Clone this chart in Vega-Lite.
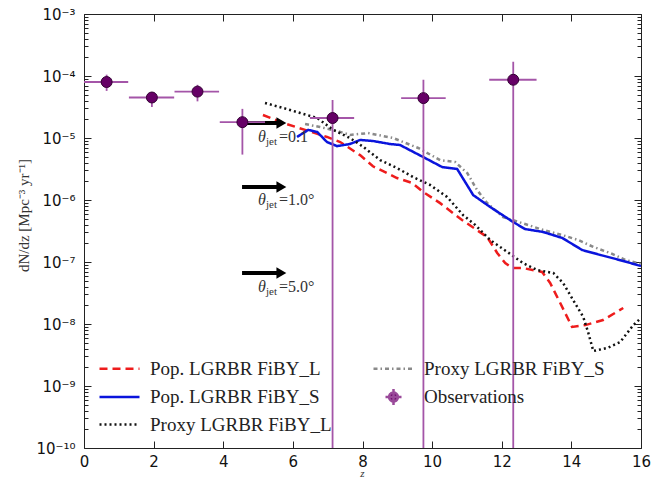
{
  "$schema": "https://vega.github.io/schema/vega-lite/v6.json",
  "width": 557,
  "height": 434,
  "autosize": "none",
  "padding": {"left": 84, "top": 14, "right": 19, "bottom": 29},
  "background": "white",
  "config": {
    "view": {"stroke": "#222222", "strokeWidth": 1},
    "axis": {"grid": false, "domain": false, "tickColor": "#222222", "tickWidth": 1}
  },
  "datasets": {
    "curves": [
      {"series": "Pop. LGRBR FiBY_L", "z": 5.14, "v": 2.35e-5},
      {"series": "Pop. LGRBR FiBY_L", "z": 5.72, "v": 1.75e-5},
      {"series": "Pop. LGRBR FiBY_L", "z": 6.35, "v": 1.35e-5},
      {"series": "Pop. LGRBR FiBY_L", "z": 6.98, "v": 1.04e-5},
      {"series": "Pop. LGRBR FiBY_L", "z": 7.36, "v": 8.6e-6},
      {"series": "Pop. LGRBR FiBY_L", "z": 7.93, "v": 5.3e-6},
      {"series": "Pop. LGRBR FiBY_L", "z": 8.30, "v": 3.5e-6},
      {"series": "Pop. LGRBR FiBY_L", "z": 8.99, "v": 2.26e-6},
      {"series": "Pop. LGRBR FiBY_L", "z": 9.43, "v": 1.88e-6},
      {"series": "Pop. LGRBR FiBY_L", "z": 9.74, "v": 1.35e-6},
      {"series": "Pop. LGRBR FiBY_L", "z": 10.23, "v": 8.9e-7},
      {"series": "Pop. LGRBR FiBY_L", "z": 10.86, "v": 4.75e-7},
      {"series": "Pop. LGRBR FiBY_L", "z": 11.58, "v": 2.53e-7},
      {"series": "Pop. LGRBR FiBY_L", "z": 11.87, "v": 1.4e-7},
      {"series": "Pop. LGRBR FiBY_L", "z": 12.10, "v": 9.6e-8},
      {"series": "Pop. LGRBR FiBY_L", "z": 12.30, "v": 8.0e-8},
      {"series": "Pop. LGRBR FiBY_L", "z": 12.61, "v": 8.0e-8},
      {"series": "Pop. LGRBR FiBY_L", "z": 13.16, "v": 6.9e-8},
      {"series": "Pop. LGRBR FiBY_L", "z": 13.39, "v": 4.6e-8},
      {"series": "Pop. LGRBR FiBY_L", "z": 13.68, "v": 2.18e-8},
      {"series": "Pop. LGRBR FiBY_L", "z": 14.02, "v": 8.95e-9},
      {"series": "Pop. LGRBR FiBY_L", "z": 14.40, "v": 9.6e-9},
      {"series": "Pop. LGRBR FiBY_L", "z": 14.91, "v": 1.16e-8},
      {"series": "Pop. LGRBR FiBY_L", "z": 15.49, "v": 1.81e-8},
      {"series": "Proxy LGRBR FiBY_S", "z": 6.35, "v": 1.68e-5},
      {"series": "Proxy LGRBR FiBY_S", "z": 6.78, "v": 1.5e-5},
      {"series": "Proxy LGRBR FiBY_S", "z": 7.27, "v": 1.3e-5},
      {"series": "Proxy LGRBR FiBY_S", "z": 7.64, "v": 1.12e-5},
      {"series": "Proxy LGRBR FiBY_S", "z": 8.16, "v": 1.2e-5},
      {"series": "Proxy LGRBR FiBY_S", "z": 8.88, "v": 1.0e-5},
      {"series": "Proxy LGRBR FiBY_S", "z": 9.60, "v": 6.9e-6},
      {"series": "Proxy LGRBR FiBY_S", "z": 10.23, "v": 4.4e-6},
      {"series": "Proxy LGRBR FiBY_S", "z": 10.66, "v": 4.1e-6},
      {"series": "Proxy LGRBR FiBY_S", "z": 11.01, "v": 2.72e-6},
      {"series": "Proxy LGRBR FiBY_S", "z": 11.29, "v": 1.45e-6},
      {"series": "Proxy LGRBR FiBY_S", "z": 11.58, "v": 8.95e-7},
      {"series": "Proxy LGRBR FiBY_S", "z": 12.04, "v": 5.3e-7},
      {"series": "Proxy LGRBR FiBY_S", "z": 12.76, "v": 3.95e-7},
      {"series": "Proxy LGRBR FiBY_S", "z": 13.19, "v": 3.28e-7},
      {"series": "Proxy LGRBR FiBY_S", "z": 13.74, "v": 2.72e-7},
      {"series": "Proxy LGRBR FiBY_S", "z": 14.20, "v": 2.26e-7},
      {"series": "Proxy LGRBR FiBY_S", "z": 14.63, "v": 1.75e-7},
      {"series": "Proxy LGRBR FiBY_S", "z": 15.11, "v": 1.4e-7},
      {"series": "Proxy LGRBR FiBY_S", "z": 15.55, "v": 1.08e-7},
      {"series": "Proxy LGRBR FiBY_S", "z": 16.0, "v": 9.3e-8},
      {"series": "Pop. LGRBR FiBY_S", "z": 6.12, "v": 1.04e-5},
      {"series": "Pop. LGRBR FiBY_S", "z": 6.44, "v": 1.35e-5},
      {"series": "Pop. LGRBR FiBY_S", "z": 6.70, "v": 1.25e-5},
      {"series": "Pop. LGRBR FiBY_S", "z": 6.98, "v": 8.6e-6},
      {"series": "Pop. LGRBR FiBY_S", "z": 7.27, "v": 7.4e-6},
      {"series": "Pop. LGRBR FiBY_S", "z": 7.64, "v": 8.0e-6},
      {"series": "Pop. LGRBR FiBY_S", "z": 7.93, "v": 9.3e-6},
      {"series": "Pop. LGRBR FiBY_S", "z": 8.30, "v": 8.95e-6},
      {"series": "Pop. LGRBR FiBY_S", "z": 8.79, "v": 8.0e-6},
      {"series": "Pop. LGRBR FiBY_S", "z": 9.08, "v": 7.7e-6},
      {"series": "Pop. LGRBR FiBY_S", "z": 9.74, "v": 4.94e-6},
      {"series": "Pop. LGRBR FiBY_S", "z": 10.29, "v": 3.4e-6},
      {"series": "Pop. LGRBR FiBY_S", "z": 10.72, "v": 3.16e-6},
      {"series": "Pop. LGRBR FiBY_S", "z": 11.18, "v": 1.2e-6},
      {"series": "Pop. LGRBR FiBY_S", "z": 11.67, "v": 7.7e-7},
      {"series": "Pop. LGRBR FiBY_S", "z": 12.33, "v": 4.4e-7},
      {"series": "Pop. LGRBR FiBY_S", "z": 12.67, "v": 3.4e-7},
      {"series": "Pop. LGRBR FiBY_S", "z": 13.19, "v": 3.05e-7},
      {"series": "Pop. LGRBR FiBY_S", "z": 13.74, "v": 2.44e-7},
      {"series": "Pop. LGRBR FiBY_S", "z": 14.31, "v": 1.56e-7},
      {"series": "Pop. LGRBR FiBY_S", "z": 14.83, "v": 1.3e-7},
      {"series": "Pop. LGRBR FiBY_S", "z": 15.49, "v": 1.04e-7},
      {"series": "Pop. LGRBR FiBY_S", "z": 16.0, "v": 8.6e-8},
      {"series": "Proxy LGRBR FiBY_L", "z": 5.20, "v": 3.67e-5},
      {"series": "Proxy LGRBR FiBY_L", "z": 5.72, "v": 3.05e-5},
      {"series": "Proxy LGRBR FiBY_L", "z": 6.21, "v": 2.53e-5},
      {"series": "Proxy LGRBR FiBY_L", "z": 6.70, "v": 2.1e-5},
      {"series": "Proxy LGRBR FiBY_L", "z": 7.16, "v": 1.35e-5},
      {"series": "Proxy LGRBR FiBY_L", "z": 7.64, "v": 1.0e-5},
      {"series": "Proxy LGRBR FiBY_L", "z": 8.02, "v": 7.2e-6},
      {"series": "Proxy LGRBR FiBY_L", "z": 8.51, "v": 4.4e-6},
      {"series": "Proxy LGRBR FiBY_L", "z": 8.99, "v": 3.28e-6},
      {"series": "Proxy LGRBR FiBY_L", "z": 9.45, "v": 2.35e-6},
      {"series": "Proxy LGRBR FiBY_L", "z": 9.94, "v": 1.75e-6},
      {"series": "Proxy LGRBR FiBY_L", "z": 10.43, "v": 1.12e-6},
      {"series": "Proxy LGRBR FiBY_L", "z": 10.89, "v": 5.7e-7},
      {"series": "Proxy LGRBR FiBY_L", "z": 11.24, "v": 3.95e-7},
      {"series": "Proxy LGRBR FiBY_L", "z": 11.67, "v": 2.26e-7},
      {"series": "Proxy LGRBR FiBY_L", "z": 12.24, "v": 1.35e-7},
      {"series": "Proxy LGRBR FiBY_L", "z": 12.61, "v": 9.6e-8},
      {"series": "Proxy LGRBR FiBY_L", "z": 13.02, "v": 7.4e-8},
      {"series": "Proxy LGRBR FiBY_L", "z": 13.48, "v": 6.65e-8},
      {"series": "Proxy LGRBR FiBY_L", "z": 13.76, "v": 4.6e-8},
      {"series": "Proxy LGRBR FiBY_L", "z": 14.05, "v": 2.44e-8},
      {"series": "Proxy LGRBR FiBY_L", "z": 14.34, "v": 1.3e-8},
      {"series": "Proxy LGRBR FiBY_L", "z": 14.48, "v": 7.4e-9},
      {"series": "Proxy LGRBR FiBY_L", "z": 14.63, "v": 3.67e-9},
      {"series": "Proxy LGRBR FiBY_L", "z": 15.03, "v": 4.1e-9},
      {"series": "Proxy LGRBR FiBY_L", "z": 15.40, "v": 5.1e-9},
      {"series": "Proxy LGRBR FiBY_L", "z": 15.78, "v": 9.6e-9},
      {"series": "Proxy LGRBR FiBY_L", "z": 16.0, "v": 1.25e-8}
    ],
    "obs": [
      {"z": 0.65, "v": 8.0e-5, "zlo": 0.0, "zhi": 1.27, "vlo": 5.75e-5, "vhi": 1.05e-4},
      {"z": 1.95, "v": 4.5e-5, "zlo": 1.29, "zhi": 2.59, "vlo": 3.16e-5, "vhi": 5.5e-5},
      {"z": 3.26, "v": 5.6e-5, "zlo": 2.6, "zhi": 3.88, "vlo": 3.9e-5, "vhi": 7.2e-5},
      {"z": 4.55, "v": 1.8e-5, "zlo": 3.9, "zhi": 5.2, "vlo": 5.4e-6, "vhi": 2.95e-5},
      {"z": 7.14, "v": 2.1e-5, "zlo": 6.49, "zhi": 7.76, "vlo": 1e-10, "vhi": 4.1e-5},
      {"z": 9.75, "v": 4.4e-5, "zlo": 9.11, "zhi": 10.39, "vlo": 1e-10, "vhi": 8.7e-5},
      {"z": 12.33, "v": 8.7e-5, "zlo": 11.64, "zhi": 13.0, "vlo": 1e-10, "vhi": 1.7e-4}
    ],
    "arrows": [
      {"z1": 4.54, "z2": 5.6, "zh": 5.67, "v": 1.75e-5},
      {"z1": 4.54, "z2": 5.6, "zh": 5.67, "v": 1.62e-6},
      {"z1": 4.54, "z2": 5.6, "zh": 5.67, "v": 6.65e-8}
    ],
    "labels": [
      {"z": 5.0, "v": 1.04e-5, "a": "θ", "b": "jet", "c": "=0.1"},
      {"z": 5.0, "v": 1.0e-6, "a": "θ", "b": "jet", "c": "=1.0°"},
      {"z": 5.0, "v": 3.95e-8, "a": "θ", "b": "jet", "c": "=5.0°"}
    ]
  },
  "layer": [
    {
      "layer": [
        {
          "data": {"name": "curves"},
          "mark": {"type": "line", "strokeWidth": 2.5, "clip": true},
          "encoding": {
            "x": {
              "field": "z", "type": "quantitative",
              "scale": {"domain": [0, 16], "nice": false, "zero": false},
              "axis": {
                "orient": "bottom",
                "values": [0, 2, 4, 6, 8, 10, 12, 14, 16],
                "tickSize": -7,
                "labelFont": "DejaVu Sans", "labelFontSize": 15, "labelColor": "#111111",
                "labelPadding": 13, "labelFlush": false, "labelOverlap": false,
                "title": "z", "titleFont": "Liberation Serif", "titleFontStyle": "italic",
                "titleFontWeight": "normal", "titleFontSize": 11, "titleColor": "#333333",
                "titleX": 278, "titleY": 28, "titleBaseline": "alphabetic", "titleAlign": "center"
              }
            },
            "y": {
              "field": "v", "type": "quantitative",
              "scale": {"type": "log", "domain": [1e-10, 1e-3], "nice": false},
              "axis": {
                "orient": "left",
                "values": [1e-10,2e-10,3e-10,4e-10,5e-10,6e-10,7e-10,8e-10,9e-10,1e-9,2e-9,3e-9,4e-9,5e-9,6e-9,7e-9,8e-9,9e-9,1e-8,2e-8,3e-8,4e-8,5e-8,6e-8,7e-8,8e-8,9e-8,1e-7,2e-7,3e-7,4e-7,5e-7,6e-7,7e-7,8e-7,9e-7,1e-6,2e-6,3e-6,4e-6,5e-6,6e-6,7e-6,8e-6,9e-6,1e-5,2e-5,3e-5,4e-5,5e-5,6e-5,7e-5,8e-5,9e-5,1e-4,2e-4,3e-4,4e-4,5e-4,6e-4,7e-4,8e-4,9e-4,1e-3],
                "tickSize": {"condition": {"test": "abs(log(datum.value)/LN10 - round(log(datum.value)/LN10)) < 0.001", "value": -7}, "value": -4},
                "labelExpr": "abs(log(datum.value)/LN10 - round(log(datum.value)/LN10)) < 0.001 ? ['10⁻¹⁰','10⁻⁹','10⁻⁸','10⁻⁷','10⁻⁶','10⁻⁵','10⁻⁴','10⁻³'][round(log(datum.value)/LN10) + 10] : ''",
                "labelFont": "DejaVu Sans", "labelFontSize": 15, "labelColor": "#111111",
                "labelPadding": 16, "labelOverlap": false, "labelFlush": false,
                "title": "dN/dz  [Mpc⁻³  yr⁻¹]", "titleFont": "Liberation Serif",
                "titleFontWeight": "normal", "titleFontSize": 15, "titleColor": "#333333",
                "titleX": -61, "titleY": 201, "titleAngle": -90, "titleAlign": "center", "titleBaseline": "middle"
              }
            },
            "color": {
              "field": "series", "type": "nominal",
              "scale": {
                "domain": ["Pop. LGRBR FiBY_L", "Pop. LGRBR FiBY_S", "Proxy LGRBR FiBY_L", "Proxy LGRBR FiBY_S", "Observations"],
                "range": ["#ee1c1c", "#0a14dc", "#111111", "#8a8a8a", "#9a4a9a"]
              },
              "legend": {
                "title": null,
                "orient": "none",
                "legendX": 26,
                "legendY": 345,
                "columns": 2,
                "columnPadding": 36,
                "rowPadding": 4.5,
                "padding": 0,
                "labelFont": "Liberation Serif",
                "labelFontSize": 19,
                "labelBaseline": "middle",
                "labelColor": "#222222",
                "labelLimit": 400,
                "labelOffset": 21,
                "symbolSize": 256,
                "symbolStrokeWidth": 2.5,
                "encode": {
                  "symbols": {
                    "update": {
                      "shape": [
                        {"test": "datum.value === 'Observations'", "value": "M-1,0H1M0,-1V1M-0.55,0A0.55,0.55 0 1,1 0.55,0A0.55,0.55 0 1,1 -0.55,0Z"},
                        {"value": "M-2.5,0H2.5"}
                      ],
                      "fill": [
                        {"test": "datum.value === 'Observations'", "value": "#660066"},
                        {"value": "transparent"}
                      ]
                    }
                  }
                }
              }
            },
            "strokeDash": {
              "field": "series", "type": "nominal",
              "scale": {
                "domain": ["Pop. LGRBR FiBY_L", "Pop. LGRBR FiBY_S", "Proxy LGRBR FiBY_L", "Proxy LGRBR FiBY_S", "Observations"],
                "range": [[8, 5], [1, 0], [2, 3], [4, 3, 1.5, 3], [1, 0]]
              }
            }
          }
        },
        {
          "data": {"name": "arrows"},
          "mark": {"type": "rule", "strokeWidth": 4, "color": "#000000"},
          "encoding": {
            "x": {"field": "z1", "type": "quantitative"},
            "x2": {"field": "z2"},
            "y": {"field": "v", "type": "quantitative"}
          }
        },
        {
          "data": {"name": "arrows"},
          "mark": {"type": "point", "shape": "triangle-right", "filled": true, "color": "#000000", "size": 130, "opacity": 1},
          "encoding": {
            "x": {"field": "zh", "type": "quantitative"},
            "y": {"field": "v", "type": "quantitative"}
          }
        },
        {
          "data": {"name": "labels"},
          "mark": {"type": "text", "align": "left", "baseline": "middle", "font": "Liberation Serif", "fontSize": 16, "fontStyle": "italic", "color": "#333333"},
          "encoding": {
            "x": {"field": "z", "type": "quantitative"},
            "y": {"field": "v", "type": "quantitative"},
            "text": {"field": "a"}
          }
        },
        {
          "data": {"name": "labels"},
          "mark": {"type": "text", "align": "left", "baseline": "middle", "font": "Liberation Serif", "fontSize": 11, "dx": 8, "dy": 5, "color": "#333333"},
          "encoding": {
            "x": {"field": "z", "type": "quantitative"},
            "y": {"field": "v", "type": "quantitative"},
            "text": {"field": "b"}
          }
        },
        {
          "data": {"name": "labels"},
          "mark": {"type": "text", "align": "left", "baseline": "middle", "font": "Liberation Serif", "fontSize": 16, "dx": 21, "color": "#333333"},
          "encoding": {
            "x": {"field": "z", "type": "quantitative"},
            "y": {"field": "v", "type": "quantitative"},
            "text": {"field": "c"}
          }
        },
        {
          "data": {"name": "obs"},
          "mark": {"type": "rule", "strokeWidth": 1.8, "color": "#a455a8"},
          "encoding": {
            "x": {"field": "zlo", "type": "quantitative"},
            "x2": {"field": "zhi"},
            "y": {"field": "v", "type": "quantitative"}
          }
        },
        {
          "data": {"name": "obs"},
          "mark": {"type": "rule", "strokeWidth": 1.8, "color": "#a455a8", "clip": true},
          "encoding": {
            "x": {"field": "z", "type": "quantitative"},
            "y": {"field": "vlo", "type": "quantitative"},
            "y2": {"field": "vhi"}
          }
        },
        {
          "data": {"name": "obs"},
          "mark": {"type": "point", "filled": true, "fill": "#660066", "stroke": "#330033", "strokeWidth": 1, "size": 120, "opacity": 1},
          "encoding": {
            "x": {"field": "z", "type": "quantitative"},
            "y": {"field": "v", "type": "quantitative"}
          }
        }
      ]
    },
    {
      "data": {"name": "obs"},
      "mark": {"type": "point", "opacity": 0},
      "encoding": {
        "x": {
          "field": "z", "type": "quantitative",
          "scale": {"domain": [0, 16], "nice": false, "zero": false},
          "axis": {"orient": "top", "values": [0, 2, 4, 6, 8, 10, 12, 14, 16], "tickSize": -7, "labels": false, "title": null}
        },
        "y": {
          "field": "v", "type": "quantitative",
          "scale": {"type": "log", "domain": [1e-10, 1e-3], "nice": false},
          "axis": {
            "orient": "right",
            "values": [1e-10,2e-10,3e-10,4e-10,5e-10,6e-10,7e-10,8e-10,9e-10,1e-9,2e-9,3e-9,4e-9,5e-9,6e-9,7e-9,8e-9,9e-9,1e-8,2e-8,3e-8,4e-8,5e-8,6e-8,7e-8,8e-8,9e-8,1e-7,2e-7,3e-7,4e-7,5e-7,6e-7,7e-7,8e-7,9e-7,1e-6,2e-6,3e-6,4e-6,5e-6,6e-6,7e-6,8e-6,9e-6,1e-5,2e-5,3e-5,4e-5,5e-5,6e-5,7e-5,8e-5,9e-5,1e-4,2e-4,3e-4,4e-4,5e-4,6e-4,7e-4,8e-4,9e-4,1e-3],
            "tickSize": {"condition": {"test": "abs(log(datum.value)/LN10 - round(log(datum.value)/LN10)) < 0.001", "value": -7}, "value": -4},
            "labels": false, "title": null
          }
        }
      }
    }
  ],
  "resolve": {"axis": {"x": "independent", "y": "independent"}}
}
